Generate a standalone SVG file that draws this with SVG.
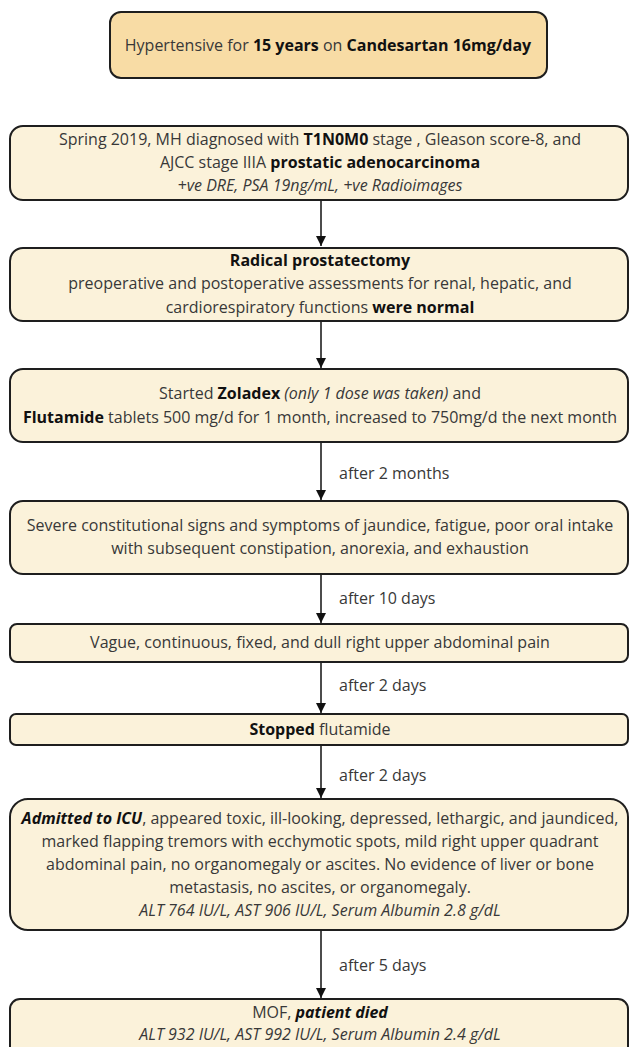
<svg xmlns="http://www.w3.org/2000/svg" width="629" height="1047" viewBox="0 0 629 1047">
<defs>
<marker id="ah" viewBox="0 0 10 16" refX="10" refY="8" markerWidth="10" markerHeight="16" markerUnits="userSpaceOnUse" orient="auto">
<path d="M0,3 L10,8 L0,13 z" fill="#111"/>
</marker>
<style>
.box{fill:#fbf2da;stroke:#1e1e1e;stroke-width:2}
.top{fill:#f8dca5;stroke:#1e1e1e;stroke-width:2}
text{font-family:"Open Sans","Noto Sans","Liberation Sans",sans-serif;font-size:16px;fill:#383838;text-anchor:middle}
.b{font-weight:bold;fill:#111}
.i{font-style:italic}
.lbl{text-anchor:start}
.con{stroke:#111;stroke-width:1.5;fill:none;marker-end:url(#ah)}
</style>
</defs>
<rect width="629" height="1047" fill="#ffffff"/>

<g id="connectors">
<line class="con" x1="321" y1="201" x2="321" y2="246"/>
<line class="con" x1="321" y1="322" x2="321" y2="368"/>
<line class="con" x1="321" y1="443" x2="321" y2="500"/>
<line class="con" x1="321" y1="575" x2="321" y2="623"/>
<line class="con" x1="321" y1="662" x2="321" y2="713"/>
<line class="con" x1="321" y1="746" x2="321" y2="798"/>
<line class="con" x1="321" y1="931" x2="321" y2="998"/>
<text class="lbl" x="339" y="479">after 2 months</text>
<text class="lbl" x="339" y="604">after 10 days</text>
<text class="lbl" x="339" y="691">after 2 days</text>
<text class="lbl" x="339" y="781">after 2 days</text>
<text class="lbl" x="339" y="971">after 5 days</text>
</g>

<g id="n1">
<rect class="top" x="110" y="12" width="437" height="66" rx="11"/>
<text x="328" y="51">Hypertensive for <tspan class="b">15 years</tspan> on <tspan class="b">Candesartan 16mg/day</tspan></text>
</g>

<g id="n2">
<rect class="box" x="10" y="126" width="618" height="74" rx="13"/>
<text x="320" y="145">Spring 2019, MH diagnosed with <tspan class="b">T1N0M0</tspan> stage , Gleason score-8, and</text>
<text x="320" y="168">AJCC stage IIIA <tspan class="b">prostatic adenocarcinoma</tspan></text>
<text x="320" y="191" class="i">+ve DRE, PSA 19ng/mL, +ve Radioimages</text>
</g>

<g id="n3">
<rect class="box" x="10" y="248" width="618" height="73" rx="13"/>
<text x="320" y="266" class="b">Radical prostatectomy</text>
<text x="320" y="289">preoperative and postoperative assessments for renal, hepatic, and</text>
<text x="320" y="313">cardiorespiratory functions <tspan class="b">were normal</tspan></text>
</g>

<g id="n4">
<rect class="box" x="10" y="369" width="618" height="73" rx="13"/>
<text x="320" y="399">Started <tspan class="b">Zoladex</tspan> <tspan class="i">(only 1 dose was taken)</tspan> and</text>
<text x="320" y="423"><tspan class="b">Flutamide</tspan> tablets 500 mg/d for 1 month, increased to 750mg/d the next month</text>
</g>

<g id="n5">
<rect class="box" x="10" y="501" width="618" height="73" rx="13"/>
<text x="320" y="531">Severe constitutional signs and symptoms of jaundice, fatigue, poor oral intake</text>
<text x="320" y="554">with subsequent constipation, anorexia, and exhaustion</text>
</g>

<g id="n6">
<rect class="box" x="10" y="624" width="618" height="38" rx="7"/>
<text x="320" y="648">Vague, continuous, fixed, and dull right upper abdominal pain</text>
</g>

<g id="n7">
<rect class="box" x="10" y="714" width="618" height="31" rx="6"/>
<text x="320" y="735"><tspan class="b">Stopped</tspan> flutamide</text>
</g>

<g id="n8">
<rect class="box" x="10" y="799" width="618" height="131" rx="18"/>
<text x="320" y="824"><tspan class="b i">Admitted to ICU</tspan>, appeared toxic, ill-looking, depressed, lethargic, and jaundiced,</text>
<text x="320" y="847">marked flapping tremors with ecchymotic spots, mild right upper quadrant</text>
<text x="320" y="870">abdominal pain, no organomegaly or ascites. No evidence of liver or bone</text>
<text x="320" y="893">metastasis, no ascites, or organomegaly.</text>
<text x="320" y="916" class="i">ALT 764 IU/L, AST 906 IU/L, Serum Albumin 2.8 g/dL</text>
</g>

<g id="n9">
<rect class="box" x="10" y="999" width="618" height="62" rx="10"/>
<text x="320" y="1018">MOF, <tspan class="b i">patient died</tspan></text>
<text x="320" y="1040" class="i">ALT 932 IU/L, AST 992 IU/L, Serum Albumin 2.4 g/dL</text>
</g>
</svg>
